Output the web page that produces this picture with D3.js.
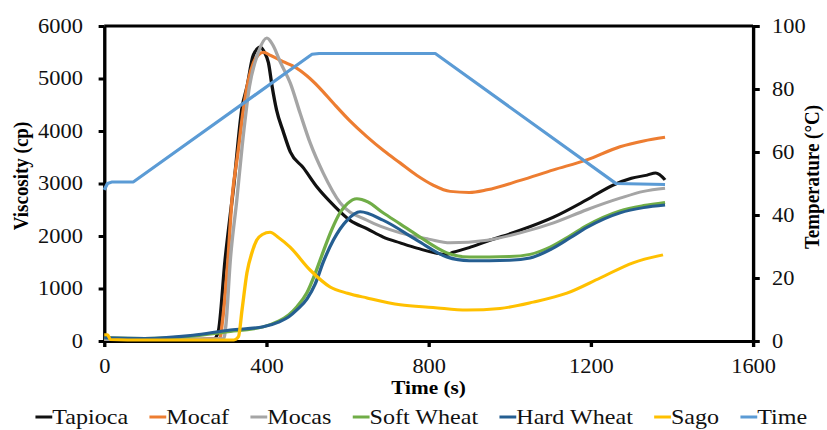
<!DOCTYPE html>
<html>
<head>
<meta charset="utf-8">
<script src="https://cdn.jsdelivr.net/npm/d3@7"></script>
<style>
  html, body { margin: 0; padding: 0; background: #fff; }
  svg { display: block; }
</style>
</head>
<body>
<svg id="chart"></svg>
<script>
// viscosity data, [time (s), viscosity (cp)]
const tapioca = [[0,40],[100,35],[200,35],[270,40],[281,170],[298,1540],[320,3000],[340,4450],[352,4840],[368,5450],[385,5600],[395,5500],[405,5300],[414,4850],[425,4400],[441,4000],[459,3600],[491,3300],[525,2930],[565,2590],[606,2300],[650,2130],[688,1980],[730,1870],[771,1770],[845,1650],[861,1690],[900,1780],[944,1900],[1026,2110],[1108,2360],[1190,2690],[1255,2970],[1300,3100],[1339,3160],[1360,3200],[1383,3070]];
const mocaf = [[0,30],[200,30],[285,50],[292,400],[305,1540],[315,2690],[330,3600],[343,4400],[355,4950],[368,5300],[380,5450],[393,5500],[410,5440],[441,5320],[470,5220],[500,5050],[530,4830],[565,4530],[605,4200],[648,3890],[690,3620],[730,3390],[770,3160],[811,2970],[853,2850],[900,2830],[944,2880],[1026,3060],[1108,3260],[1190,3450],[1272,3700],[1330,3810],[1383,3880]];
const mocas = [[0,30],[200,30],[295,50],[300,300],[311,1540],[327,2690],[340,3700],[358,4840],[380,5500],[401,5770],[415,5650],[435,5300],[459,4910],[483,4340],[508,3770],[540,3200],[582,2630],[648,2300],[730,2060],[800,1940],[853,1870],[944,1920],[1026,2060],[1108,2250],[1190,2500],[1272,2720],[1330,2850],[1383,2910]];
const softWheat = [[0,60],[100,50],[200,80],[300,170],[392,270],[430,380],[455,500],[476,660],[500,920],[520,1280],[540,1700],[560,2100],[582,2450],[600,2620],[623,2710],[650,2650],[688,2440],[730,2230],[771,2020],[845,1680],[900,1600],[1000,1610],[1050,1650],[1100,1790],[1150,2010],[1190,2200],[1272,2480],[1330,2580],[1383,2640]];
const hardWheat = [[0,60],[100,50],[219,110],[311,210],[392,270],[430,360],[455,460],[476,600],[500,800],[520,1080],[540,1500],[565,1920],[599,2300],[631,2460],[688,2300],[771,1920],[845,1600],[900,1530],[1000,1540],[1050,1580],[1100,1740],[1150,1970],[1190,2160],[1272,2440],[1330,2540],[1383,2590]];
const sago = [[0,120],[8,120],[15,30],[100,20],[200,20],[320,20],[331,80],[340,600],[352,1300],[365,1700],[376,1920],[390,2030],[409,2070],[430,1970],[458,1790],[508,1350],[557,1030],[600,910],[648,820],[730,690],[811,640],[894,590],[976,620],[1058,740],[1141,910],[1223,1200],[1304,1490],[1378,1640]];
// temperature profile, [time (s), temperature (°C)]
const temperature = [[0,48],[8,50],[20,50.5],[72,50.5],[512,91],[530,91.3],[816,91.3],[1262,50],[1383,49.7]];

const seriesNames = ["Tapioca", "Mocaf", "Mocas", "Soft Wheat", "Hard Wheat", "Sago", "Time"];
const seriesColors = ["#111111", "#ED7D31", "#A5A5A5", "#70AD47", "#255E91", "#FFC000", "#5B9BD5"];

const xTicks = [0, 400, 800, 1200, 1600];
const yTicks = [0, 1000, 2000, 3000, 4000, 5000, 6000];
const tempTicks = [0, 20, 40, 60, 80, 100];

// the figure is drawn a bit narrower and stretched out to the window
const W = 738, H = 430;
const margin = { top: 26, right: 66, bottom: 89, left: 93 };
const font = "'Liberation Serif', 'Times New Roman', serif";

const svg = d3.select("#chart")
    .attr("width", 827)
    .attr("height", 430)
    .attr("viewBox", "0 0 " + W + " " + H)
    .attr("preserveAspectRatio", "none");

const x = d3.scaleLinear().domain([0, 1600]).range([margin.left, W - margin.right]);
const y = d3.scaleLinear().domain([0, 6000]).range([H - margin.bottom, margin.top]);
const yT = d3.scaleLinear().domain([0, 100]).range([H - margin.bottom, margin.top]);

function styleAxis(g) {
    g.attr("font-family", font).attr("font-size", 20);
    g.select(".domain").attr("stroke", "#000").attr("stroke-width", 3);
    g.selectAll(".tick line").attr("stroke", "#000").attr("stroke-width", 3);
    g.selectAll(".tick text").attr("fill", "#111");
}

// top border
svg.append("line")
    .attr("x1", x(0)).attr("x2", x(1600))
    .attr("y1", y(6000)).attr("y2", y(6000))
    .attr("stroke", "#000").attr("stroke-width", 3);

svg.append("g")
    .attr("transform", "translate(0," + y(0) + ")")
    .call(d3.axisBottom(x).tickValues(xTicks).tickFormat(d3.format("d"))
        .tickSize(6).tickPadding(12).tickSizeOuter(0))
    .call(styleAxis);

svg.append("g")
    .attr("transform", "translate(" + x(0) + ",0)")
    .call(d3.axisLeft(y).tickValues(yTicks).tickFormat(d3.format("d"))
        .tickSize(5).tickPadding(14).tickSizeOuter(0))
    .call(styleAxis);

svg.append("g")
    .attr("transform", "translate(" + x(1600) + ",0)")
    .call(d3.axisRight(yT).tickValues(tempTicks).tickFormat(d3.format("d"))
        .tickSize(6).tickPadding(11).tickSizeOuter(0))
    .call(styleAxis);

// axis titles
svg.append("text")
    .attr("x", (x(0) + x(1600)) / 2).attr("y", 394)
    .attr("text-anchor", "middle")
    .attr("font-family", font).attr("font-size", 19).attr("font-weight", "bold")
    .text("Time (s)");

svg.append("text")
    .attr("transform", "translate(25,176) rotate(-90)")
    .attr("text-anchor", "middle")
    .attr("font-family", font).attr("font-size", 19).attr("font-weight", "bold")
    .text("Viscosity (cp)");

svg.append("text")
    .attr("transform", "translate(731,177) rotate(-90)")
    .attr("text-anchor", "middle")
    .attr("font-family", font).attr("font-size", 19).attr("font-weight", "bold")
    .text("Temperature (°C)");

// curves
const visLine = d3.line()
    .x(function (d) { return x(d[0]); })
    .y(function (d) { return y(d[1]); })
    .curve(d3.curveMonotoneX);

const tempLine = d3.line()
    .x(function (d) { return x(d[0]); })
    .y(function (d) { return yT(d[1]); });

const visSeries = [tapioca, mocaf, mocas, softWheat, hardWheat, sago];

svg.selectAll(".vis")
    .data(visSeries)
    .enter().append("path")
    .attr("class", "vis")
    .attr("fill", "none")
    .attr("stroke", function (d, i) { return seriesColors[i]; })
    .attr("stroke-width", 3)
    .attr("stroke-linejoin", "round")
    .attr("d", visLine);

svg.append("path")
    .datum(temperature)
    .attr("fill", "none")
    .attr("stroke", seriesColors[6])
    .attr("stroke-width", 3)
    .attr("stroke-linejoin", "round")
    .attr("d", tempLine);

// legend
const legend = svg.append("g");
const sampleLen = 15, gap = 19;
let cx = 0;
seriesNames.forEach(function (name, i) {
    const item = legend.append("g").attr("transform", "translate(" + cx + ",0)");
    item.append("line")
        .attr("x1", 0).attr("x2", sampleLen)
        .attr("y1", -7).attr("y2", -7)
        .attr("stroke", seriesColors[i]).attr("stroke-width", 3);
    const t = item.append("text")
        .attr("x", sampleLen)
        .attr("font-family", font).attr("font-size", 21.5)
        .attr("fill", "#111")
        .text(name);
    cx += sampleLen + t.node().getComputedTextLength() + gap;
});
const legendW = cx - gap;
legend.attr("transform", "translate(" + (376 - legendW / 2) + ",424)");
</script>
</body>
</html>
